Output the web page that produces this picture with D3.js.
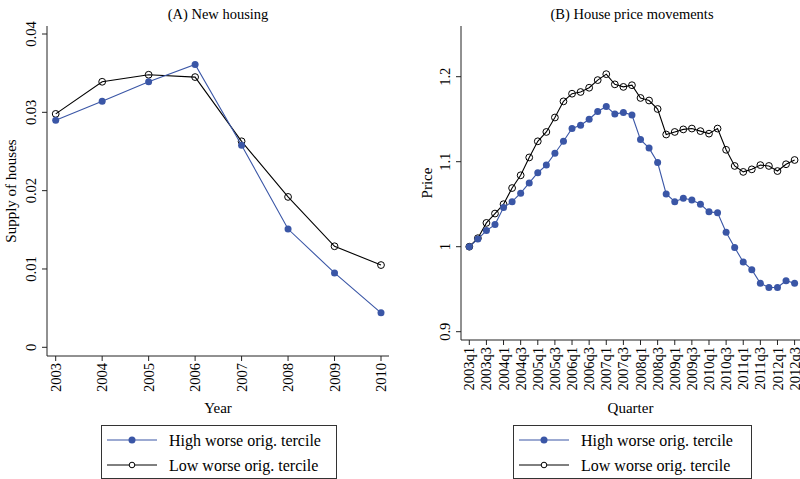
<!DOCTYPE html>
<html>
<head>
<meta charset="utf-8">
<script src="https://cdn.jsdelivr.net/npm/d3@7"></script>
<style>
  body { margin: 0; background: #fff; }
  svg { font-family: "Liberation Serif", "DejaVu Serif", serif; }
</style>
</head>
<body>
<svg id="chart" width="800" height="479"></svg>
<script>
// (A) new housing, by year
var years = [2003, 2004, 2005, 2006, 2007, 2008, 2009, 2010];
var supplyHigh = [0.0290, 0.0314, 0.0339, 0.0361, 0.0258, 0.0151, 0.0095, 0.0044];
var supplyLow  = [0.0298, 0.0339, 0.0348, 0.0345, 0.0263, 0.0192, 0.0129, 0.0105];
var supplyTicks = [0, 0.01, 0.02, 0.03, 0.04];

// (B) house prices, by quarter 2003q1 .. 2012q3
var quarters = [];
for (var y = 2003; y <= 2012; y++) for (var q = 1; q <= 4; q++) quarters.push(y + "q" + q);
quarters = quarters.slice(0, 39);
var priceHigh = [1.000, 1.009, 1.019, 1.026, 1.046, 1.053, 1.063, 1.075, 1.087, 1.096,
                 1.110, 1.124, 1.139, 1.143, 1.150, 1.159, 1.165, 1.156, 1.158, 1.155,
                 1.126, 1.116, 1.099, 1.062, 1.053, 1.057, 1.055, 1.050, 1.041, 1.040,
                 1.017, 0.999, 0.982, 0.973, 0.957, 0.952, 0.952, 0.960, 0.957];
var priceLow  = [1.000, 1.010, 1.028, 1.039, 1.050, 1.069, 1.084, 1.105, 1.124, 1.135,
                 1.152, 1.171, 1.180, 1.182, 1.187, 1.196, 1.203, 1.191, 1.188, 1.190,
                 1.175, 1.172, 1.162, 1.132, 1.135, 1.138, 1.139, 1.136, 1.133, 1.139,
                 1.114, 1.095, 1.088, 1.091, 1.096, 1.095, 1.089, 1.097, 1.102];
var priceTicks = [0.9, 1, 1.1, 1.2];
var quarterTicks = quarters.filter(function(d, i) { return i % 2 == 0; });

var blue = "#3a56a6";
var svg = d3.select("#chart");

function panel(opt) {
  var g = svg.append("g");
  var x = opt.x, yS = opt.y;

  // axes
  g.append("line").attr("x1", opt.left).attr("x2", opt.left)
    .attr("y1", opt.top).attr("y2", opt.bottom).attr("stroke", "#222");
  g.append("line").attr("x1", opt.left).attr("x2", opt.right)
    .attr("y1", opt.bottom).attr("y2", opt.bottom).attr("stroke", "#222");

  var yt = g.selectAll(".yt").data(opt.yTicks).enter();
  yt.append("line").attr("x1", opt.left - 5).attr("x2", opt.left)
    .attr("y1", function(d) { return yS(d); }).attr("y2", function(d) { return yS(d); })
    .attr("stroke", "#222");
  yt.append("text")
    .attr("transform", function(d) { return "translate(" + (opt.left - 11) + "," + yS(d) + ") rotate(-90)"; })
    .attr("text-anchor", "middle").attr("font-size", 14.5)
    .text(function(d) { return opt.yFmt(d); });

  var xt = g.selectAll(".xt").data(opt.xTicks).enter();
  xt.append("line").attr("x1", function(d) { return x(d); }).attr("x2", function(d) { return x(d); })
    .attr("y1", opt.bottom).attr("y2", opt.bottom + 5).attr("stroke", "#222");
  xt.append("text")
    .attr("transform", function(d) { return "translate(" + x(d) + "," + (opt.bottom + 7) + ") rotate(-90)"; })
    .attr("text-anchor", "end").attr("dy", "0.35em").attr("font-size", 14.5)
    .text(function(d) { return d; });

  // titles
  g.append("text").attr("x", opt.titleX).attr("y", 19).attr("text-anchor", "middle")
    .attr("font-size", 14.5).text(opt.title);
  g.append("text").attr("x", (opt.left + opt.xEnd) / 2).attr("y", 413).attr("text-anchor", "middle")
    .attr("font-size", 15).text(opt.xTitle);
  g.append("text")
    .attr("transform", "translate(" + opt.yTitleX + "," + ((opt.top + opt.bottom) / 2) + ") rotate(-90)")
    .attr("text-anchor", "middle").attr("font-size", 15).text(opt.yTitle);

  // series
  var line = d3.line().x(function(d) { return x(d[0]); }).y(function(d) { return yS(d[1]); });
  var hi = opt.cats.map(function(c, i) { return [c, opt.high[i]]; });
  var lo = opt.cats.map(function(c, i) { return [c, opt.low[i]]; });

  g.append("path").datum(lo).attr("d", line).attr("fill", "none").attr("stroke", "#000").attr("stroke-width", 1.1);
  g.selectAll(".lo").data(lo).enter().append("circle")
    .attr("cx", function(d) { return x(d[0]); }).attr("cy", function(d) { return yS(d[1]); })
    .attr("r", 3.4).attr("fill", "none").attr("stroke", "#000").attr("stroke-width", 1);
  g.append("path").datum(hi).attr("d", line).attr("fill", "none").attr("stroke", blue).attr("stroke-width", 1.1);
  g.selectAll(".hi").data(hi).enter().append("circle")
    .attr("cx", function(d) { return x(d[0]); }).attr("cy", function(d) { return yS(d[1]); })
    .attr("r", 3.5).attr("fill", blue);

  // legend
  var lg = g.append("g").attr("transform", "translate(" + opt.legX + ",425)");
  lg.append("rect").attr("x", 0.5).attr("y", 0.5).attr("width", opt.legW).attr("height", 53)
    .attr("fill", "#fff").attr("stroke", "#333");
  lg.append("line").attr("x1", 6).attr("x2", 56).attr("y1", 15).attr("y2", 15).attr("stroke", blue).attr("stroke-width", 1.2);
  lg.append("circle").attr("cx", 31).attr("cy", 15).attr("r", 3.5).attr("fill", blue);
  lg.append("text").attr("x", 68).attr("y", 20.5).attr("font-size", 16).text(opt.legHigh);
  lg.append("line").attr("x1", 6).attr("x2", 56).attr("y1", 40).attr("y2", 40).attr("stroke", "#000");
  lg.append("circle").attr("cx", 31).attr("cy", 40).attr("r", 2.8).attr("fill", "#fff").attr("stroke", "#000");
  lg.append("text").attr("x", 68).attr("y", 45.5).attr("font-size", 16).text(opt.legLow);
}

// panel A
var xA = d3.scalePoint().domain(years).range([55.7, 381]);
var yA = d3.scaleLinear().domain([0, 0.04]).range([347.3, 34]);
panel({
  x: xA, y: yA, cats: years, high: supplyHigh, low: supplyLow,
  left: 47, right: 389, xEnd: 389, top: 26, bottom: 356,
  yTicks: supplyTicks, yFmt: function(d) { return d === 0 ? "0" : d3.format(".2f")(d); },
  xTicks: years, title: "(A) New housing", titleX: 218, xTitle: "Year",
  yTitle: "Supply of houses", yTitleX: 16,
  legX: 101, legW: 235, legHigh: "High worse orig. tercile", legLow: "Low worse orig. tercile"
});

// panel B
var xB = d3.scalePoint().domain(quarters).range([469.3, 794.6]);
var yB = d3.scaleLinear().domain([0.9, 1.2]).range([331.7, 76.7]);
panel({
  x: xB, y: yB, cats: quarters, high: priceHigh, low: priceLow,
  left: 461, right: 805, xEnd: 800, top: 26, bottom: 340,
  yTicks: priceTicks, yFmt: function(d) { return String(d); },
  xTicks: quarterTicks, title: "(B) House price movements", titleX: 632, xTitle: "Quarter",
  yTitle: "Price", yTitleX: 432,
  legX: 513, legW: 238, legHigh: "High worse orig. tercile", legLow: "Low  worse orig. tercile"
});
</script>
</body>
</html>
